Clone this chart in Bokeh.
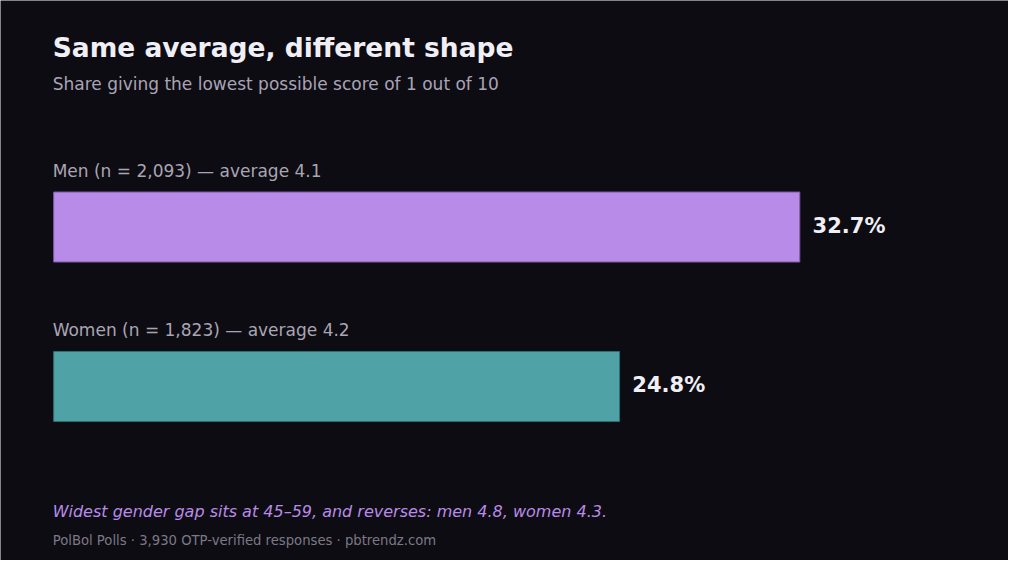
from bokeh.plotting import figure
from bokeh.models import Range1d, Label, ColumnDataSource
from bokeh.core.properties import value
from bokeh.embed import file_html
from bokeh.resources import INLINE

# ---- data ----
groups = ["Men", "Women"]
group_labels = ["Men (n = 2,093) — average 4.1", "Women (n = 1,823) — average 4.2"]
shares = [32.7, 24.8]
value_labels = ["32.7%", "24.8%"]
bar_colors = ["#b98be8", "#4fa3a6"]
bar_lines = ["#7b5aa6", "#2f7073"]

title = "Same average, different shape"
subtitle = "Share giving the lowest possible score of 1 out of 10"
note = "Widest gender gap sits at 45–59, and reverses: men 4.8, women 4.3."
source_txt = "PolBol Polls · 3,930 OTP-verified responses · pbtrendz.com"

BG = "#0d0c12"
FONT = "DejaVu Sans"

W, H = 1008, 560
sx, sy = W / 1024, H / 576
k = 758 * sx / 32.7      # px per percentage point
x0 = 54 * sx             # px of zero
yk = 164 * sy            # px per group step
yc = 233 * sy            # px of first group centre (from top)

p = figure(width=W, height=H, output_backend="svg", toolbar_location=None,
           x_range=Range1d(-x0 / k, (W - x0) / k),
           y_range=Range1d((H - yc) / yk, -yc / yk),
           min_border=0, border_fill_color=BG, background_fill_color=BG,
           outline_line_color=None)
p.axis.visible = False
p.grid.visible = False

idx = list(range(len(groups)))
src = ColumnDataSource(dict(y=idx, right=shares, color=bar_colors, line=bar_lines,
                            glabel=group_labels, vlabel=value_labels, zero=[0] * len(groups)))

p.hbar(y="y", left=0, right="right", height=72 * sy / yk, fill_color="color",
       line_color="line", line_width=1, source=src)

p.text(x="zero", y="y", text="glabel", source=src, x_offset=-1, y_offset=-58 * sy,
       text_font=value(FONT), text_font_size="17px", text_color="#aaa5b4",
       text_baseline="alphabetic", text_align="left")

p.text(x="right", y="y", text="vlabel", source=src, x_offset=13 * sx, y_offset=-1,
       text_font=value(FONT), text_font_size="21px", text_font_style="bold",
       text_color="#f1eff6", text_baseline="middle", text_align="left")

def lab(t, y_top, size, color, style="normal"):
    p.add_layout(Label(x=53 * sx, y=H - y_top * sy, x_units="screen", y_units="screen", text=t,
                       text_font=FONT, text_font_size=size, text_color=color,
                       text_font_style=style, text_baseline="alphabetic"))

lab(title, 48.5, "26.5px", "#f1eff6", "bold")
lab(subtitle, 86, "17px", "#a9a4b5")
lab(note, 526, "16px", "#b98be8", "italic")
lab(source_txt, 555, "13.2px", "#7d7888")

html = file_html(p, INLINE)
html = html.replace("<body>", '<body style="background:%s;">' % BG, 1)
open("out.html", "w").write(html)
